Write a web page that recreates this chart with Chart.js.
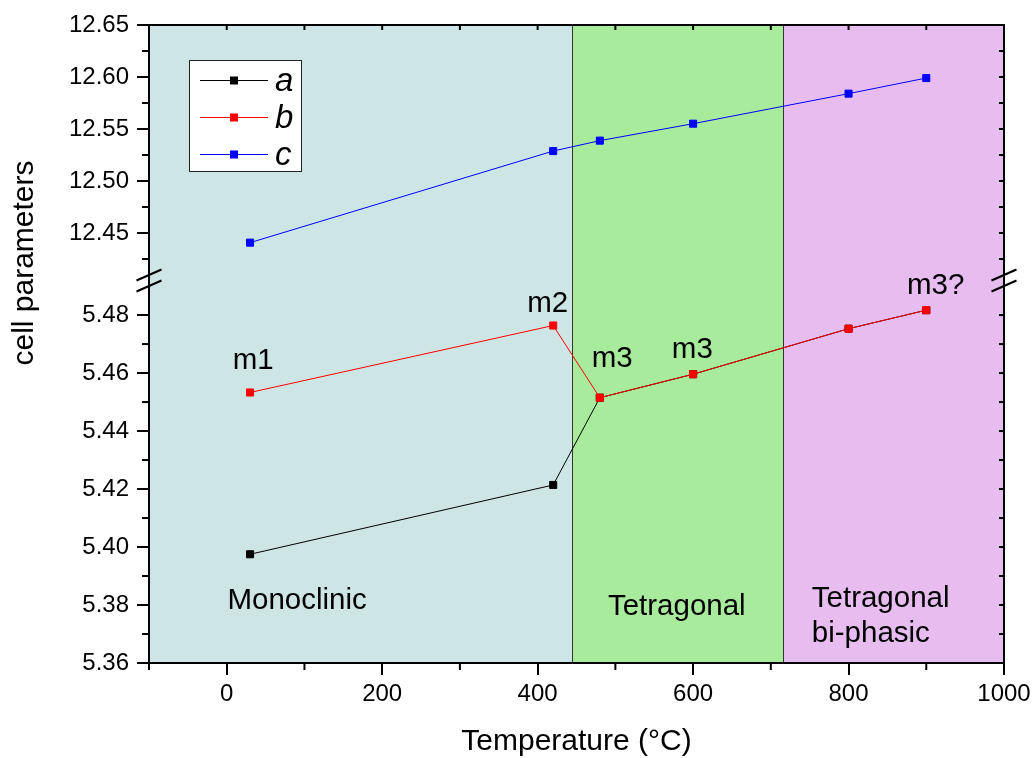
<!DOCTYPE html>
<html><head><meta charset="utf-8">
<script src="https://cdn.jsdelivr.net/npm/chart.js@4.4.1/dist/chart.umd.min.js"></script>
<style>html,body{margin:0;padding:0;background:#fff;} canvas{display:block;}</style>
</head><body>
<canvas id="c" width="1036" height="758"></canvas>
<script>
// ---- data ----
const temperatures = [30, 420, 480, 600, 800, 900];
const seriesA = [5.3975, 5.4214, 5.4515, 5.4596, 5.4753, 5.4817];
const seriesB = [5.4533, 5.4764, 5.4515, 5.4596, 5.4753, 5.4817];
const seriesC = [12.4407, 12.5288, 12.5388, 12.5551, 12.5840, 12.5990];
const seriesNames = ['a', 'b', 'c'];
const xTickValues = [0, 200, 400, 600, 800, 1000];
const yLowTickValues = [5.36, 5.38, 5.40, 5.42, 5.44, 5.46, 5.48];
const yHighTickValues = [12.45, 12.50, 12.55, 12.60, 12.65];
const phaseEdges = [-100, 444, 716, 1000];
const phaseNames = ['Monoclinic', 'Tetragonal', 'Tetragonal\nbi-phasic'];
const pointNotes = ['m1', 'm2', 'm3', 'm3', 'm3?'];

// ---- styles / placement ----
const FONT = '"Liberation Sans", Arial, Helvetica, sans-serif';
const phaseColors = ['#cde6e5', '#a8eb9c', '#e7bdf0'];
const seriesColors = ['#000000', '#ff0000', '#0000ff'];
const notePlaces = [[34, 5.4614], [413, 5.4810], [496, 5.4621], [599, 5.4652], [912, 5.4872]];
const phasePlaces = [
  {x: 90.6, y: 5.3786, align: 'center'},
  {x: 579, y: 5.3766, align: 'center'},
  {x: 752.7, y: 5.3793, align: 'left'}
];

const pts = arr => temperatures.map((t, i) => ({x: t, y: arr[i]}));

function line(ctx, x0, y0, x1, y1) { ctx.beginPath(); ctx.moveTo(x0, y0); ctx.lineTo(x1, y1); ctx.stroke(); }

const decor = {
  id: 'decor',
  beforeDraw(chart) {
    const {ctx, chartArea: ca, scales: {x}} = chart;
    ctx.save();
    for (let i = 0; i < phaseColors.length; i++) {
      const x0 = x.getPixelForValue(phaseEdges[i]), x1 = x.getPixelForValue(phaseEdges[i + 1]);
      ctx.fillStyle = phaseColors[i];
      ctx.fillRect(x0, ca.top, x1 - x0, ca.bottom - ca.top);
    }
    ctx.strokeStyle = '#333'; ctx.lineWidth = 1;
    for (let i = 1; i < phaseEdges.length - 1; i++) {
      const px = Math.round(x.getPixelForValue(phaseEdges[i])) + 0.5;
      line(ctx, px, ca.top, px, ca.bottom);
    }
    ctx.restore();
  },
  afterDraw(chart) {
    const {ctx, chartArea: ca, scales: {x, yLow, yHigh}} = chart;
    ctx.save();
    ctx.strokeStyle = '#000'; ctx.fillStyle = '#000';
    // frame
    ctx.lineWidth = 2;
    ctx.strokeRect(ca.left, ca.top, ca.right - ca.left, ca.bottom - ca.top);
    // x minor ticks (bottom outward) and top inward ticks
    for (let v = -100; v <= 1000; v += 100) {
      const px = x.getPixelForValue(v);
      if (!xTickValues.includes(v)) line(ctx, px, ca.bottom, px, ca.bottom + 7);
      if (v > -100 && v < 1000) line(ctx, px, ca.top, px, ca.top + 5);
    }
    // y low minor ticks
    for (let k = 0; k <= 12; k++) {
      const v = 5.36 + k * 0.01;
      const py = yLow.getPixelForValue(v);
      if (k % 2 === 1) line(ctx, ca.left - 7, py, ca.left, py);
      if (k > 0) line(ctx, ca.right - 5, py, ca.right, py);
    }
    for (let k = 0; k <= 9; k++) {
      const v = 12.425 + k * 0.025;
      const py = yHigh.getPixelForValue(v);
      if (k % 2 === 0) line(ctx, ca.left - 7, py, ca.left, py);
      if (k < 9) line(ctx, ca.right - 5, py, ca.right, py);
    }
    // break marks
    const yb = yLow.top;
    [ca.left, ca.right].forEach(xc => {
      [-5, 6].forEach(dy => line(ctx, xc - 12.5, yb + dy + 5.5, xc + 12.5, yb + dy - 5.5));
    });
    // legend
    const lx = 189, ly = 60;
    ctx.fillStyle = '#fff';
    ctx.fillRect(lx, ly, 112, 111);
    ctx.lineWidth = 1; ctx.strokeStyle = '#222';
    ctx.strokeRect(lx + 0.5, ly + 0.5, 112, 111);
    ctx.font = 'italic 33px ' + FONT;
    ctx.textBaseline = 'middle'; ctx.textAlign = 'left';
    seriesNames.forEach((n, i) => {
      const yy = ly + 20 + i * 37;
      ctx.strokeStyle = seriesColors[i]; ctx.fillStyle = seriesColors[i];
      line(ctx, 200, yy + 0.5, 268, yy + 0.5);
      ctx.fillRect(230, yy - 3.5, 8, 8);
      ctx.fillStyle = '#000';
      ctx.fillText(n, 275, yy + 2);
    });
    // annotations
    ctx.fillStyle = '#000';
    ctx.font = '29.5px ' + FONT;
    ctx.textBaseline = 'alphabetic';
    ctx.textAlign = 'center';
    pointNotes.forEach((t, i) => {
      ctx.fillText(t, x.getPixelForValue(notePlaces[i][0]), yLow.getPixelForValue(notePlaces[i][1]));
    });
    phaseNames.forEach((t, i) => {
      const p = phasePlaces[i];
      ctx.textAlign = p.align;
      t.split('\n').forEach((s, j) => {
        ctx.fillText(s, x.getPixelForValue(p.x), yLow.getPixelForValue(p.y) + j * 35);
      });
    });
    // y title
    ctx.save();
    ctx.translate(25, 263);
    ctx.rotate(-Math.PI / 2);
    ctx.font = '30px ' + FONT;
    ctx.textAlign = 'center'; ctx.textBaseline = 'middle';
    ctx.fillText('cell parameters', 0, 0);
    ctx.restore();
    ctx.restore();
  }
};

const tickFont = {family: FONT, size: 24};
const yCommon = {
  type: 'linear', position: 'left', stack: 'cells',
  grid: {drawOnChartArea: false, drawTicks: true, tickLength: 12, color: '#000', lineWidth: 2},
  border: {display: false},
  ticks: {color: '#000', font: tickFont, padding: 8, includeBounds: false, autoSkip: false,
          callback: v => Number(v).toFixed(2)},
  afterFit: s => { s.width = 149; }
};

new Chart(document.getElementById('c'), {
  type: 'line',
  data: {
    datasets: [
      {label: seriesNames[0], data: pts(seriesA), yAxisID: 'yLow', order: 2},
      {label: seriesNames[1], data: pts(seriesB), yAxisID: 'yLow', order: 1},
      {label: seriesNames[2], data: pts(seriesC), yAxisID: 'yHigh', order: 3}
    ].map((d, i) => Object.assign(d, {
      borderColor: seriesColors[i], backgroundColor: seriesColors[i],
      borderWidth: 1, pointStyle: 'rect', pointRadius: 5, pointBorderWidth: 1,
      tension: 0, fill: false
    }))
  },
  options: {
    responsive: false, animation: false, devicePixelRatio: 1,
    layout: {padding: {top: 25, right: 32, left: 0, bottom: 0}},
    plugins: {legend: {display: false}, tooltip: {enabled: false}},
    scales: {
      x: {
        type: 'linear', min: -100, max: 1000,
        grid: {drawOnChartArea: false, drawTicks: true, tickLength: 12, color: '#000', lineWidth: 2},
        border: {display: false},
        ticks: {color: '#000', font: tickFont, padding: 5, autoSkip: false, maxRotation: 0, includeBounds: false,
                callback: v => String(v)},
        afterBuildTicks: s => { s.ticks = xTickValues.map(v => ({value: v})); },
        title: {display: true, text: 'Temperature (°C)', color: '#000', font: {family: FONT, size: 30}, padding: {top: 0, bottom: -2}},
        afterFit: s => { s.height = 95; }
      },
      yLow: Object.assign({}, yCommon, {
        min: 5.36, max: 5.4921, stackWeight: 383,
        afterBuildTicks: s => { s.ticks = yLowTickValues.map(v => ({value: v})); }
      }),
      yHigh: Object.assign({}, yCommon, {
        min: 12.4048, max: 12.65, stackWeight: 255,
        afterBuildTicks: s => { s.ticks = yHighTickValues.map(v => ({value: v})); }
      })
    }
  },
  plugins: [decor]
});
</script>
</body></html>
